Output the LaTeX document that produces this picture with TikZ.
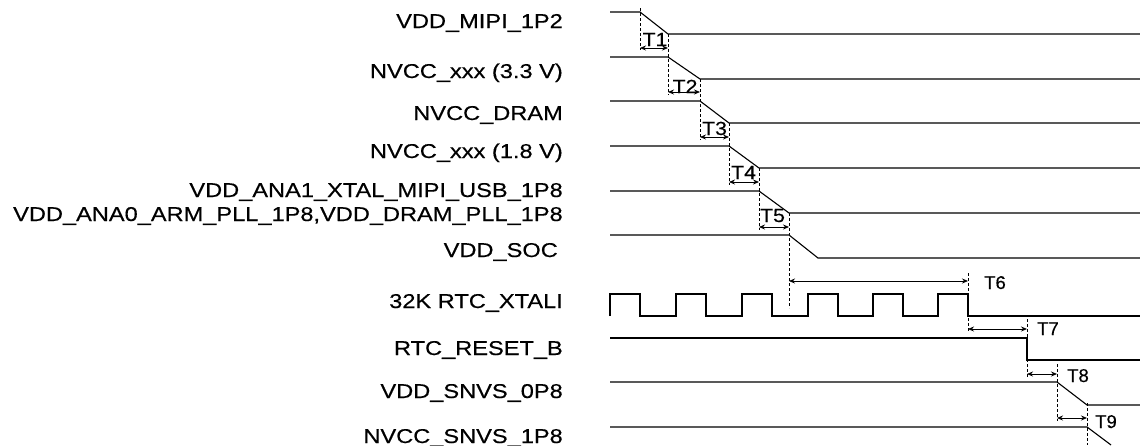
\documentclass[tikz,border=0pt]{standalone}
\usepackage{fontspec}
\setmainfont{Liberation Sans}
\newfontfamily\sigfont[FakeStretch=1.18,FakeBold=0.4]{Liberation Sans}
\newfontfamily\tmfont[FakeStretch=1.12,FakeBold=0.4]{Liberation Sans}
\newfontfamily\tnfont[FakeBold=0.4]{Liberation Sans}
\usetikzlibrary{arrows.meta}
\begin{document}
\begin{tikzpicture}[x=1pt,y=-1pt,
  sig/.style={line width=1.1pt, line join=miter},
  guide/.style={line width=0.9pt, dash pattern=on 3pt off 2pt},
  dim/.style={line width=0.8pt, {Stealth[length=6pt,width=5pt]}-{Stealth[length=6pt,width=5pt]}},
  lbl/.style={anchor=base east, inner sep=0pt, font=\sigfont\fontsize{20}{23}\selectfont},
  tlbl/.style={anchor=base, inner sep=0pt, font=\tmfont\fontsize{19}{22}\selectfont},
  tlbn/.style={anchor=base, inner sep=0pt, font=\tnfont\fontsize{18.5}{22}\selectfont}]
\useasboundingbox (0,0) rectangle (1140,445);

% signal names
\node[lbl] (n1) at (563,28) {VDD\_MIPI\_1P2};
\node[lbl] (n2) at (563,78) {NVCC\_xxx (3.3 V)};
\node[lbl] (n3) at (563,120) {NVCC\_DRAM};
\node[lbl] (n4) at (563,158) {NVCC\_xxx (1.8 V)};
\node[lbl] (n5a) at (563,197) {VDD\_ANA1\_XTAL\_MIPI\_USB\_1P8};
\node[lbl] (n5b) at (563,221) {VDD\_ANA0\_ARM\_PLL\_1P8,VDD\_DRAM\_PLL\_1P8};
\node[lbl] (n6) at (558,257) {VDD\_SOC};
\node[lbl] (n7) at (563,308) {32K RTC\_XTALI};
\node[lbl] (n8) at (563,355) {RTC\_RESET\_B};
\node[lbl] (n9) at (563,398) {VDD\_SNVS\_0P8};
\node[lbl] (n10) at (563,443) {NVCC\_SNVS\_1P8};

% waveforms
\draw[sig] (610,12) -- (640,12) -- (668,34) -- (1140,34);
\draw[sig] (610,57) -- (668,57) -- (700,79) -- (1140,79);
\draw[sig] (610,101) -- (700,101) -- (729,123) -- (1140,123);
\draw[sig] (610,146) -- (729,146) -- (759,168) -- (1140,168);
\draw[sig] (610,191) -- (759,191) -- (789,213) -- (1140,213);
\draw[sig] (610,235) -- (789,235) -- (818,258) -- (1140,258);
\draw[sig] (610,316) -- (610,294) -- (640,294) -- (640,316) -- (676,316) -- (676,294)
  -- (706,294) -- (706,316) -- (742,316) -- (742,294) -- (772,294) -- (772,316)
  -- (808,316) -- (808,294) -- (838,294) -- (838,316) -- (873,316) -- (873,294)
  -- (903,294) -- (903,316) -- (938,316) -- (938,294) -- (968,294) -- (968,316) -- (1140,316);
\draw[sig] (610,338) -- (1027,338) -- (1027,360) -- (1140,360);
\draw[sig] (610,382) -- (1057,382) -- (1087,405) -- (1140,405);
\draw[sig] (610,427) -- (1087,427) -- (1111,445);

% guide lines
\coordinate (g0t) at (640,8);   \coordinate (g0b) at (640,50);
\coordinate (g1t) at (668,34);  \coordinate (g1b) at (668,95);
\coordinate (g2t) at (700,79);  \coordinate (g2b) at (700,140);
\coordinate (g3t) at (729,123); \coordinate (g3b) at (729,185);
\coordinate (g4t) at (759,168); \coordinate (g4b) at (759,230);
\coordinate (g5t) at (789,213); \coordinate (g5b) at (789,308);
\coordinate (g6t) at (968,273); \coordinate (g6b) at (968,332);
\coordinate (g7t) at (1027,319); \coordinate (g7b) at (1027,377);
\coordinate (g8t) at (1057,364); \coordinate (g8b) at (1057,421);
\coordinate (g9t) at (1087,403); \coordinate (g9b) at (1087,445);
\foreach \g in {g0,g1,g2,g3,g4,g5,g6,g7,g8,g9}
  \draw[guide] (\g t) -- (\g b);

% dimension arrows
\draw[dim] (640,48) -- (668,48);
\draw[dim] (668,92) -- (700,92);
\draw[dim] (700,137) -- (729,137);
\draw[dim] (729,182) -- (759,182);
\draw[dim] (759,227) -- (789,227);
\draw[dim] (789,281) -- (968,281);
\draw[dim] (968,329) -- (1027,329);
\draw[dim] (1027,374) -- (1057,374);
\draw[dim] (1057,418) -- (1087,418);

% time labels
\node[tlbl] (t1) at (655,46) {T1};
\node[tlbl] (t2) at (685,93) {T2};
\node[tlbl] (t3) at (714.5,135) {T3};
\node[tlbl] (t4) at (743.5,179) {T4};
\node[tlbl] (t5) at (772.5,222) {T5};
\node[tlbn] (t6) at (995,289) {T6};
\node[tlbn] (t7) at (1048,335) {T7};
\node[tlbn] (t8) at (1078,382) {T8};
\node[tlbn] (t9) at (1106,428) {T9};
\end{tikzpicture}
\end{document}
